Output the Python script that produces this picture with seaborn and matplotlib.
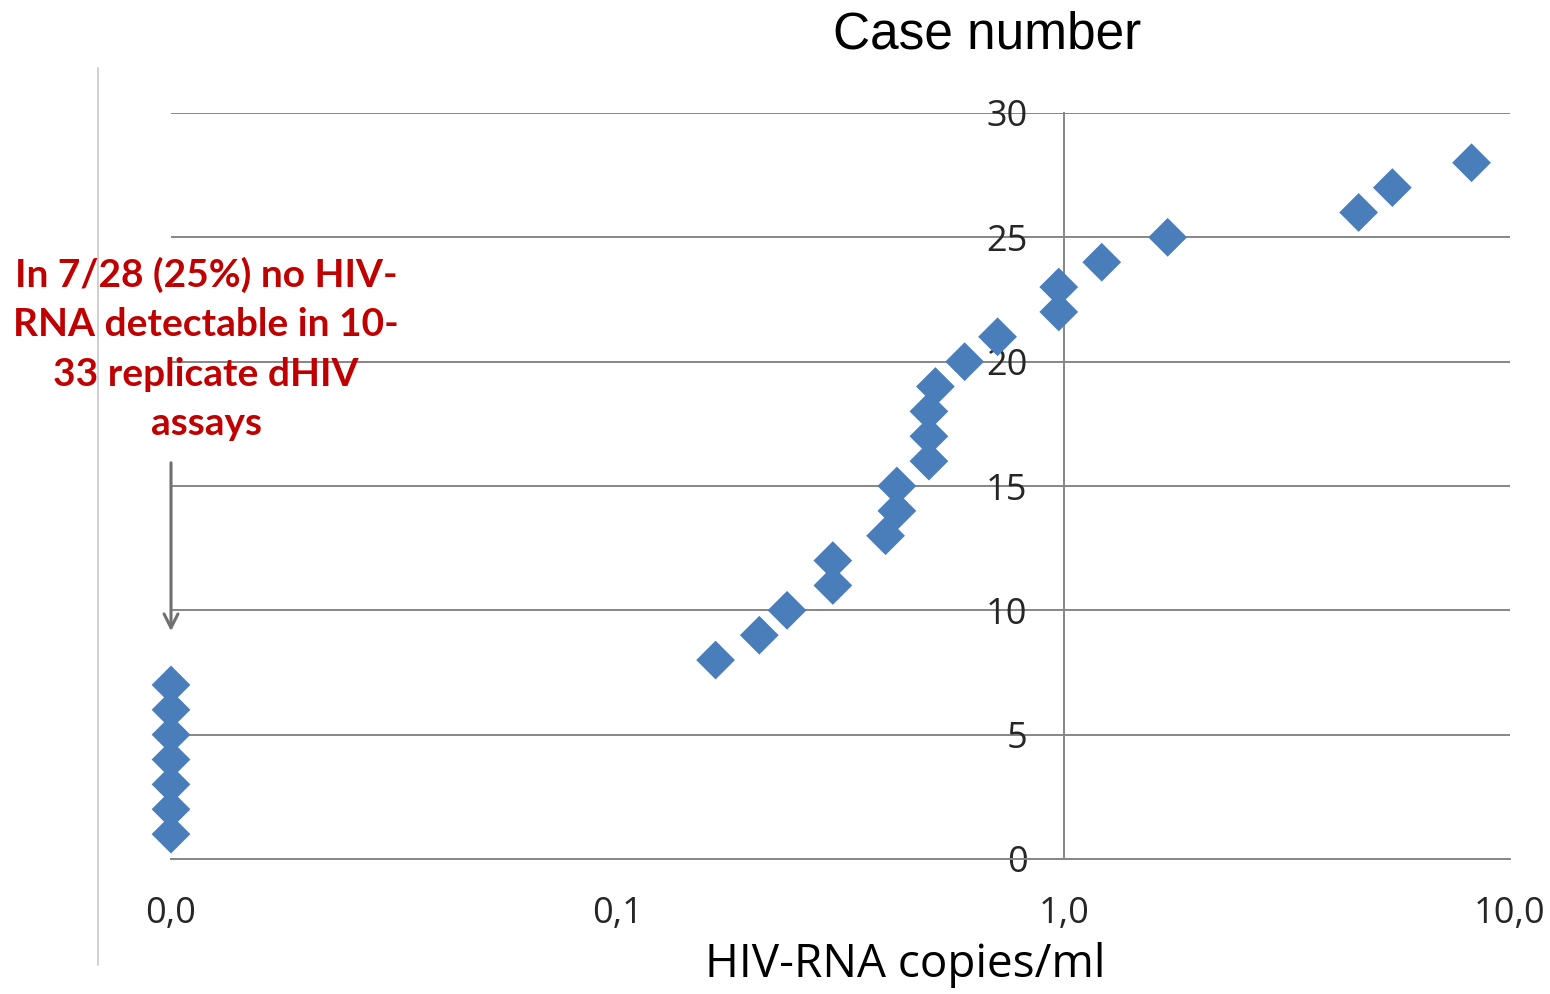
import numpy as np
import pandas as pd
import matplotlib
matplotlib.use("Agg")
import matplotlib.pyplot as plt
import seaborn as sns
from matplotlib.lines import Line2D

# Daten (0,0 = nicht nachweisbar, auf der Log-Achse bei 0.01 gezeichnet)
case_number = list(range(1, 29))
hiv_rna = [0.01, 0.01, 0.01, 0.01, 0.01, 0.01, 0.01,
           0.166, 0.208, 0.240, 0.304, 0.304, 0.399, 0.423, 0.423,
           0.499, 0.499, 0.499, 0.516, 0.600, 0.711, 0.975, 0.975,
           1.217, 1.71, 4.58, 5.45, 8.2]
x_ticks = [0.01, 0.1, 1, 10]
x_tick_labels = ["0,0", "0,1", "1,0", "10,0"]
y_ticks = [0, 5, 10, 15, 20, 25, 30]

df = pd.DataFrame({"RNA": hiv_rna, "Case": case_number})

sns.set_style("white")
plt.rcParams["font.family"] = ["Open Sans", "DejaVu Sans"]

fig = plt.figure(figsize=(15.5, 9.94), dpi=100)
ax = fig.add_axes([171 / 1550, 1 - 859 / 994, (1510 - 171) / 1550, (859 - 113) / 994])

sns.scatterplot(data=df, x="RNA", y="Case", marker="D", s=390, color="#4A7EBB",
                edgecolor="none", linewidth=0, ax=ax, zorder=3, clip_on=False)

ax.set_xscale("log")
ax.set_xlim(0.01, 10)
ax.set_ylim(0, 30)
ax.set_xticks(x_ticks)
ax.set_xticklabels(x_tick_labels)
ax.minorticks_off()
ax.set_yticks(y_ticks)
ax.set_xlabel("")
ax.set_ylabel("")

# Gitterlinien
ax.grid(axis="y", color="#868686", linewidth=1.4, zorder=0)
ax.grid(axis="x", visible=False)

for s in ["top", "right"]:
    ax.spines[s].set_visible(False)
ax.spines["left"].set_position(("data", 1))
ax.spines["left"].set_color("#868686")
ax.spines["left"].set_linewidth(1.4)
ax.spines["bottom"].set_color("#868686")
ax.spines["bottom"].set_linewidth(1.4)

ax.tick_params(axis="x", direction="out", length=7, width=1.4, color="#868686",
               pad=20, labelsize=26, labelcolor="#262626")
ax.tick_params(axis="y", length=0, pad=26, labelsize=26, labelcolor="#262626")

# Achsentitel
fig.text(987 / 1550, 1 - 35 / 994, "Case number", ha="center", va="center",
         fontsize=37, family=["Liberation Sans", "DejaVu Sans"], color="black")
fig.text(905 / 1550, 1 - 965 / 994, "HIV-RNA copies/ml", ha="center", va="center",
         fontsize=33, color="black")

# Anmerkung
fig.text(206 / 1550, 1 - 349 / 994,
         "In 7/28 (25%) no HIV-\nRNA detectable in 10-\n33 replicate dHIV\nassays",
         ha="center", va="center", fontsize=28, fontweight="bold",
         family=["Lato", "DejaVu Sans"], color="#C00000", linespacing=1.5)

ax.annotate("", xy=(171 / 1550, 1 - 634 / 994), xytext=(171 / 1550, 1 - 460 / 994),
            xycoords="figure fraction", textcoords="figure fraction",
            arrowprops=dict(arrowstyle="->", color="#707070", lw=2.2,
                            mutation_scale=25))

# dünne Linie links
fig.add_artist(Line2D([98 / 1550, 98 / 1550], [1 - 68 / 994, 1 - 965 / 994],
                      transform=fig.transFigure, color="#c8c8c8", linewidth=1.2))

fig.savefig("out.png", dpi=100)
